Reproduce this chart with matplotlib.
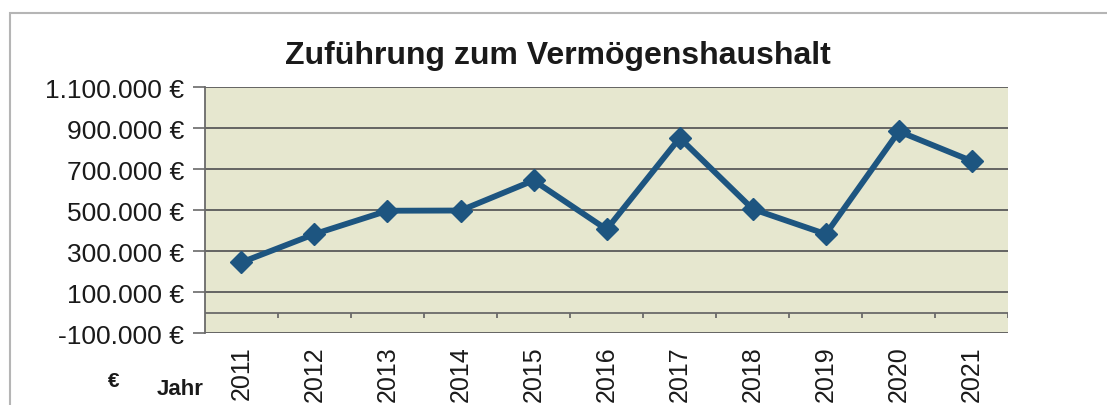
import numpy as np
import matplotlib.pyplot as plt
from matplotlib.patches import Rectangle

plt.rcParams['font.family'] = ['Liberation Sans', 'DejaVu Sans']

years = ['2011', '2012', '2013', '2014', '2015', '2016', '2017', '2018', '2019', '2020', '2021']
values = [245000, 383000, 497000, 498000, 645000, 406000, 852000, 505000, 383000, 884000, 739000]
yticks = [-100000, 100000, 300000, 500000, 700000, 900000, 1100000]

def euro(v):
    s = f"{v:,.0f}".replace(",", ".")
    return s + " €"

fig = plt.figure(figsize=(11.07, 4.06), dpi=100)

# outer chart frame (scanned border)
fig.patches.append(Rectangle((0.009, -0.05), 1.2, 1.016, transform=fig.transFigure,
                             fill=False, edgecolor='#b5b5b5', linewidth=1.5))

ax = fig.add_axes([0.185, 0.177, 0.726, 0.606])
ax.set_facecolor('#e6e7cf')

x = np.arange(len(years))
ax.set_xlim(-0.5, len(years) - 0.5)
ax.set_ylim(yticks[0], yticks[-1])

# gridlines
for yv in yticks:
    ax.axhline(yv, color='#5a5a5a', linewidth=1.3, zorder=1)
# zero line with category boundary ticks
ax.axhline(0, color='#6a6a6a', linewidth=1.3, zorder=1)
ax.vlines(x + 0.5, -28000, 0, color='#6a6a6a', linewidth=1.3, zorder=1)

ax.plot(x, values, color='#1d5580', linewidth=4.2, marker='D', markersize=11,
        markerfacecolor='#1d5580', markeredgecolor='#1d5580', zorder=3)

for s in ['top', 'right', 'bottom']:
    ax.spines[s].set_visible(False)
ax.spines['left'].set_color('#6a6a6a')
ax.spines['left'].set_linewidth(1.3)

ax.set_yticks(yticks)
ax.set_yticklabels([euro(v) for v in yticks], fontsize=19, color='#1a1a1a')
ax.tick_params(axis='y', length=9, width=1.2, color='#6a6a6a', pad=6)

ax.set_xticks(x)
ax.set_xticklabels(years, rotation=90, fontsize=18, color='#1a1a1a')
ax.tick_params(axis='x', length=0, pad=9)

fig.text(0.504, 0.862, 'Zuführung zum Vermögenshaushalt', ha='center', va='center',
         fontsize=23, fontweight='bold', color='#1a1a1a')
fig.text(0.103, 0.06, '€', ha='center', va='center', fontsize=15, fontweight='bold', color='#1a1a1a')
fig.text(0.163, 0.04, 'Jahr', ha='center', va='center', fontsize=16, fontweight='bold', color='#1a1a1a')

fig.savefig('out.png', dpi=100)
